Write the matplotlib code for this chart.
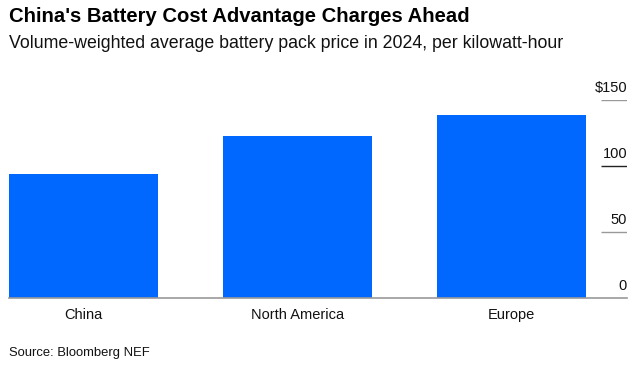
import matplotlib
matplotlib.use("Agg")
import matplotlib.pyplot as plt

regions = ["China", "North America", "Europe"]
prices = [94, 123, 139]
y_ticks = [0, 50, 100, 150]
y_labels = ["0", "50", "100", "$150"]

BLUE = "#0068ff"
W, H = 641, 368

plt.rcParams["font.family"] = ["Liberation Sans", "DejaVu Sans"]

fig = plt.figure(figsize=(W / 100, H / 100), dpi=100)
ax = fig.add_axes([9 / W, 1 - 298.3 / H, 618 / W, (298.3 - 100) / H])

x = list(range(len(regions)))
ax.bar(x, prices, width=0.696, color=BLUE, zorder=2)
ax.set_xlim(-0.348, 2.54)
ax.set_ylim(0, 150)

for s in ax.spines.values():
    s.set_visible(False)
ax.axhline(0, color="#999999", lw=1.2, zorder=3, clip_on=False)

# short gridlines beside the labels at the right
for t in y_ticks[1:]:
    ax.hlines(t, 2.418, 2.54, color="#999999" if t != 100 else "#222222", lw=1.0)
ax.set_yticks([])
for t, lab in zip(y_ticks, y_labels):
    ax.text(2.54, t + 4, lab, ha="right", va="bottom", fontsize=10.5, color="#111111")

ax.set_xticks(x)
ax.set_xticklabels(regions, fontsize=10.5, color="#111111")
ax.tick_params(axis="x", length=0, pad=7)

fig.text(9 / W, 1 - 17 / H, "China's Battery Cost Advantage Charges Ahead",
         fontsize=14.6, fontweight="bold", va="center", ha="left", color="#000000")
fig.text(9 / W, 1 - 43 / H, "Volume-weighted average battery pack price in 2024, per kilowatt-hour",
         fontsize=12.8, va="center", ha="left", color="#111111")
fig.text(9 / W, 1 - 353 / H, "Source: Bloomberg NEF",
         fontsize=9.4, va="center", ha="left", color="#111111")

fig.savefig("out.png", dpi=100)
